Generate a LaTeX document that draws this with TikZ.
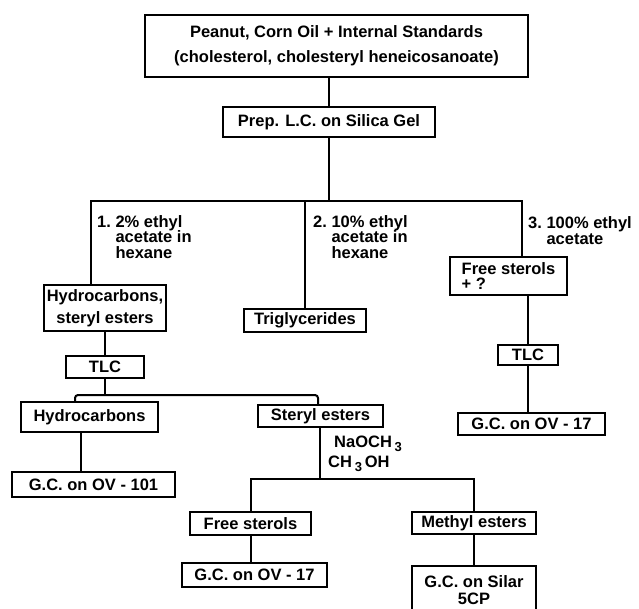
\documentclass[tikz,border=0pt]{standalone}
\usepackage{fontspec}
\setmainfont{Liberation Sans}
\newcommand{\lowsub}[1]{\,\raisebox{-0.4ex}{\fontsize{13}{13}\selectfont #1}\,}
\begin{document}
\begin{tikzpicture}[x=1pt,y=-1pt,
  every node/.style={font=\fontsize{16.5}{20}\selectfont\bfseries},
  box/.style={draw, line width=2pt, inner sep=0pt, align=center},
  lbl/.style={inner sep=0pt, align=left, anchor=north west},
  conn/.style={line width=2pt}]
\useasboundingbox (0,0) rectangle (639,608);
\clip (0,0) rectangle (639,608);
% boxes
\node[box, minimum width=383pt, minimum height=62pt, font=\fontsize{16.5}{25}\selectfont\bfseries] (top) at (336.5,46) {Peanut, Corn Oil + Internal Standards\\(cholesterol, cholesteryl heneicosanoate)};
\node[box, minimum width=212pt, minimum height=30pt] (prep) at (329,122) {Prep. L.C. on Silica Gel};
\node[box, minimum width=122pt, minimum height=46pt, font=\fontsize{16.5}{22}\selectfont\bfseries] (hyd) at (105,308) {Hydrocarbons,\\steryl esters};
\node[box, minimum width=122pt, minimum height=23pt] (trig) at (305,320.5) {Triglycerides};
\node[box, minimum width=117pt, minimum height=38pt, align=left, font=\fontsize{16.5}{15.5}\selectfont\bfseries] (fs) at (508.5,276) {Free sterols\\+ ?};
\node[box, minimum width=60pt, minimum height=20pt] (tlcb) at (528,355) {TLC};
\node[box, minimum width=147pt, minimum height=22pt] (gcb) at (531.5,424) {G.C. on OV - 17};
\node[box, minimum width=78pt, minimum height=22pt] (tlca) at (105,367) {TLC};
\node[box, minimum width=137pt, minimum height=30pt] (hc) at (89.5,417) {Hydrocarbons};
\node[box, minimum width=125pt, minimum height=22pt] (se) at (320.5,416) {Steryl esters};
\node[box, minimum width=163pt, minimum height=25pt] (gca) at (93.5,484.5) {G.C. on OV - 101};
\node[box, minimum width=121pt, minimum height=23pt] (fsb) at (250.5,523.5) {Free sterols};
\node[box, minimum width=124pt, minimum height=22pt] (me) at (474,523) {Methyl esters};
\node[box, minimum width=145pt, minimum height=24pt] (gcc) at (254.5,575) {G.C. on OV - 17};
\node[box, minimum width=124pt, minimum height=48pt, font=\fontsize{16.5}{17}\selectfont\bfseries] (gcd) at (474,590) {G.C. on Silar\\5CP};
% labels
\node[lbl, font=\fontsize{16.5}{15.5}\selectfont\bfseries] (la) at (97,215) {1.\ 2\% ethyl\\\phantom{1.\ }acetate in\\\phantom{1.\ }hexane};
\node[lbl, font=\fontsize{16.5}{15.5}\selectfont\bfseries] (lb) at (313,215) {2.\ 10\% ethyl\\\phantom{2.\ }acetate in\\\phantom{2.\ }hexane};
\node[lbl, font=\fontsize{16.5}{16}\selectfont\bfseries] (lc) at (528,216) {3.\ 100\% ethyl\\\phantom{3.\ }acetate};
\node[lbl, font=\fontsize{16.5}{20}\selectfont\bfseries] (reag) at (328,436) {\hspace{6pt}NaOCH\lowsub{3}\\CH\lowsub{3}OH};
% coordinates
\coordinate (s1) at (329,201);
\coordinate (b1) at (91,201);
\coordinate (b3) at (522,201);
\coordinate (c1) at (75,395);
\coordinate (c2) at (318,395);
\coordinate (h1) at (81,450);
\coordinate (m0) at (320,479);
\coordinate (m1) at (251,479);
\coordinate (m2) at (474,479);
% connectors
\draw[conn] (prep.north) -- (prep.north |- top.south);
\draw[conn] (prep.south) -- (s1);
\draw[conn] (hyd.north -| b1) -- (b1) -- (b3) -- (fs.north -| b3);
\draw[conn] (trig.north) -- (trig.north |- b1);
\draw[conn] (hyd.south -| tlca) -- (tlca.north);
\draw[conn] (tlca.south) -- (tlca.south |- c1);
\draw[conn, rounded corners=3pt] (hc.north -| c1) -- (c1) -- (c2) -- (se.north -| c2);
\draw[conn] (hc.south -| h1) -- (gca.north -| h1);
\draw[conn] (se.south -| m0) -- (m0);
\draw[conn] (fsb.north -| m1) -- (m1) -- (m2) -- (me.north -| m2);
\draw[conn] (fsb.south -| m1) -- (gcc.north -| m1);
\draw[conn] (me.south) -- (gcd.north);
\draw[conn] (fs.south -| tlcb) -- (tlcb.north);
\draw[conn] (tlcb.south) -- (gcb.north -| tlcb);
\end{tikzpicture}
\end{document}
